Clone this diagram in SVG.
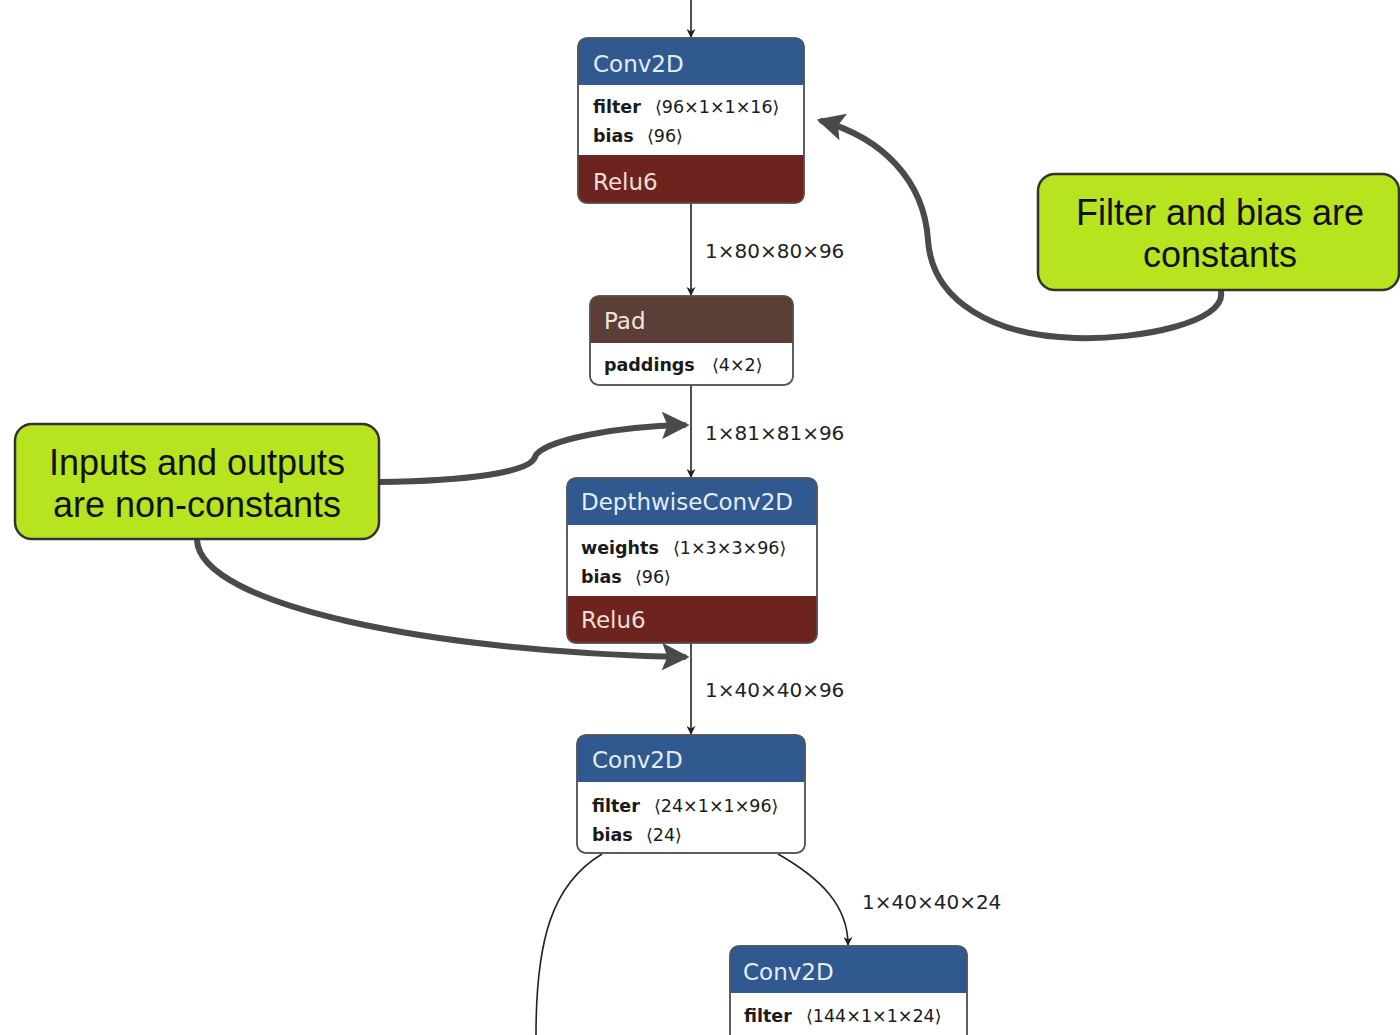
<svg xmlns="http://www.w3.org/2000/svg" width="1400" height="1035" viewBox="0 0 1400 1035">
  <defs>
    <marker id="tip" viewBox="0 0 10 10" refX="9" refY="5" markerWidth="9" markerHeight="9" markerUnits="userSpaceOnUse" orient="auto">
      <path d="M0,0 L10,5 L0,10 L3,5 z" fill="#222"/>
    </marker>
    <marker id="bigtip" viewBox="0 0 10 10" refX="8" refY="5" markerWidth="4.6" markerHeight="4.6" orient="auto">
      <path d="M0,0 L10,5 L0,10 L2,5 z" fill="#4a4a4a"/>
    </marker>
    <style>
      .frame { fill: #fff; stroke: #555; stroke-width: 1.5; }
      .hdr-conv { fill: #30598f; }
      .hdr-act { fill: #6d241e; }
      .hdr-pad { fill: #5b3f37; }
      .title { font-family: "DejaVu Sans", sans-serif; font-size: 23px; fill: #e6ecf5; }
      .name { font-family: "DejaVu Sans", sans-serif; font-size: 17.5px; font-weight: bold; fill: #1a1a1a; }
      .val { font-family: "DejaVu Sans", sans-serif; font-size: 17.5px; fill: #1a1a1a; }
      .edge { fill: none; stroke: #222; stroke-width: 1.6; }
      .elabel { font-family: "DejaVu Sans", sans-serif; font-size: 20px; fill: #222; }
      .note { fill: #b7e41f; stroke: #333; stroke-width: 2.5; }
      .notetext { font-family: "Liberation Sans", Arial, sans-serif; font-size: 36px; fill: #111; text-anchor: middle; }
      .pointer { fill: none; stroke: #4a4a4a; stroke-width: 6; stroke-linecap: round; }
    </style>
  </defs>

  <rect width="1400" height="1035" fill="#fff"/>

  <!-- graph edges -->
  <g id="connectors">
    <path class="edge" d="M691,0 L691,37" marker-end="url(#tip)"/>
    <path class="edge" d="M691,203 L691,295" marker-end="url(#tip)"/>
    <text class="elabel" x="705" y="258">1×80×80×96</text>
    <path class="edge" d="M691,385 L691,477" marker-end="url(#tip)"/>
    <text class="elabel" x="705" y="440">1×81×81×96</text>
    <path class="edge" d="M691,643 L691,734" marker-end="url(#tip)"/>
    <text class="elabel" x="705" y="697">1×40×40×96</text>
    <path class="edge" d="M602,854 C552,884 536,940 536,1035"/>
    <path class="edge" d="M778,854 C820,878 848,905 848,945" marker-end="url(#tip)"/>
    <text class="elabel" x="862" y="909">1×40×40×24</text>
  </g>

  <!-- Conv2D 96x1x1x16 + Relu6 -->
  <g id="conv2d-1">
    <rect class="frame" x="578" y="38" width="226" height="165" rx="9"/>
    <path class="hdr-conv" d="M578,85 V47 a9,9 0 0 1 9,-9 H795 a9,9 0 0 1 9,9 V85 z"/>
    <path class="hdr-act" d="M578,155 V194 a9,9 0 0 0 9,9 H795 a9,9 0 0 0 9,-9 V155 z"/>
    <rect x="578" y="38" width="226" height="165" rx="9" fill="none" stroke="#555" stroke-width="1.5"/>
    <text class="title" x="593" y="72">Conv2D</text>
    <text class="name" x="593" y="113">filter</text><text class="val" x="655" y="113">⟨96×1×1×16⟩</text>
    <text class="name" x="593" y="142">bias</text><text class="val" x="647" y="142">⟨96⟩</text>
    <text class="title" x="593" y="190" style="fill:#f2dcd6">Relu6</text>
  </g>

  <!-- Pad -->
  <g id="pad">
    <rect class="frame" x="590" y="296" width="203" height="89" rx="9"/>
    <path class="hdr-pad" d="M590,343 V305 a9,9 0 0 1 9,-9 H784 a9,9 0 0 1 9,9 V343 z"/>
    <rect x="590" y="296" width="203" height="89" rx="9" fill="none" stroke="#555" stroke-width="1.5"/>
    <text class="title" x="604" y="329" style="fill:#f0e4de">Pad</text>
    <text class="name" x="604" y="371">paddings</text><text class="val" x="712" y="371">⟨4×2⟩</text>
  </g>

  <!-- DepthwiseConv2D + Relu6 -->
  <g id="depthwise">
    <rect class="frame" x="567" y="478" width="250" height="165" rx="9"/>
    <path class="hdr-conv" d="M567,525 V487 a9,9 0 0 1 9,-9 H808 a9,9 0 0 1 9,9 V525 z"/>
    <path class="hdr-act" d="M567,596 V634 a9,9 0 0 0 9,9 H808 a9,9 0 0 0 9,-9 V596 z"/>
    <rect x="567" y="478" width="250" height="165" rx="9" fill="none" stroke="#555" stroke-width="1.5"/>
    <text class="title" x="581" y="510">DepthwiseConv2D</text>
    <text class="name" x="581" y="554">weights</text><text class="val" x="673" y="554">⟨1×3×3×96⟩</text>
    <text class="name" x="581" y="583">bias</text><text class="val" x="635" y="583">⟨96⟩</text>
    <text class="title" x="581" y="628" style="fill:#f2dcd6">Relu6</text>
  </g>

  <!-- Conv2D 24x1x1x96 -->
  <g id="conv2d-2">
    <rect class="frame" x="577" y="735" width="228" height="118" rx="9"/>
    <path class="hdr-conv" d="M577,782 V744 a9,9 0 0 1 9,-9 H796 a9,9 0 0 1 9,9 V782 z"/>
    <rect x="577" y="735" width="228" height="118" rx="9" fill="none" stroke="#555" stroke-width="1.5"/>
    <text class="title" x="592" y="768">Conv2D</text>
    <text class="name" x="592" y="812">filter</text><text class="val" x="654" y="812">⟨24×1×1×96⟩</text>
    <text class="name" x="592" y="841">bias</text><text class="val" x="646" y="841">⟨24⟩</text>
  </g>

  <!-- Conv2D 144x1x1x24 -->
  <g id="conv2d-3">
    <rect class="frame" x="730" y="946" width="237" height="130" rx="9"/>
    <path class="hdr-conv" d="M730,993 V955 a9,9 0 0 1 9,-9 H958 a9,9 0 0 1 9,9 V993 z"/>
    <rect x="730" y="946" width="237" height="130" rx="9" fill="none" stroke="#555" stroke-width="1.5"/>
    <text class="title" x="743" y="980">Conv2D</text>
    <text class="name" x="744" y="1022">filter</text><text class="val" x="806" y="1022">⟨144×1×1×24⟩</text>
    <text class="name" x="744" y="1049">bias</text><text class="val" x="798" y="1049">⟨144⟩</text>
  </g>

  <!-- callout: constants -->
  <g id="note-constants">
    <path class="pointer" d="M1221,292 C1226,322 1140,340 1075,338 C995,336 932,302 928,240 C924,180 882,138 822,121" marker-end="url(#bigtip)"/>
    <rect class="note" x="1038" y="174" width="361" height="116" rx="17"/>
    <text class="notetext" x="1220" y="225">Filter and bias are</text>
    <text class="notetext" x="1220" y="267">constants</text>
  </g>

  <!-- callout: non-constants -->
  <g id="note-nonconstants">
    <path class="pointer" d="M379,482 C470,481 530,472 535,457 C541,440 620,426 684,425" marker-end="url(#bigtip)"/>
    <path class="pointer" d="M197,540 C200,605 430,652 684,657" marker-end="url(#bigtip)"/>
    <rect class="note" x="15" y="424" width="364" height="115" rx="17"/>
    <text class="notetext" x="197" y="475">Inputs and outputs</text>
    <text class="notetext" x="197" y="517">are non-constants</text>
  </g>
</svg>
